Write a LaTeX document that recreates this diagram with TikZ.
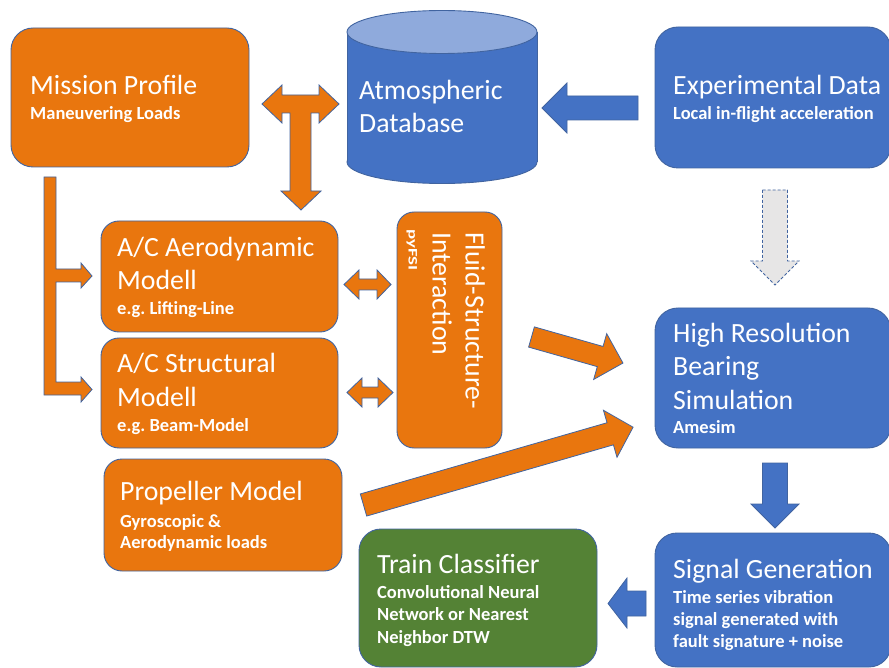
\documentclass[tikz,border=0pt]{standalone}
\usepackage{fontspec}
\setmainfont{Carlito}
\frenchspacing
\definecolor{orng}{RGB}{233,118,14}
\definecolor{blu}{RGB}{68,114,196}
\definecolor{grn}{RGB}{84,130,53}
\definecolor{ltblu}{RGB}{143,170,220}
\definecolor{edgec}{RGB}{65,100,160}
\definecolor{lgray}{RGB}{231,230,230}
\tikzset{
  box/.style={draw=edgec, line width=0.9pt, inner sep=0pt},
  obox/.style={box, fill=orng},
  bbox/.style={box, fill=blu},
  gbox/.style={box, fill=grn},
  oarrow/.style={draw=edgec, line width=0.8pt, fill=orng, line join=miter},
  barrow/.style={draw=edgec, line width=0.8pt, fill=blu, line join=miter},
  ttl/.style={text=white, anchor=base west, inner sep=0pt, font=\fontsize{27.8}{33}\selectfont},
  subt/.style={text=white, anchor=base west, inner sep=0pt, font=\fontsize{18.5}{22}\selectfont\bfseries},
}
\begin{document}
\begin{tikzpicture}[x=1pt,y=-1pt]
\useasboundingbox (0,0) rectangle (889,668);

% ---------- boxes ----------
\node[obox, minimum width=238pt, minimum height=139pt, rounded corners=22pt] (mission) at (130,97.5) {};
\node[obox, minimum width=237pt, minimum height=111pt, rounded corners=18pt] (aero) at (219.5,276.5) {};
\node[obox, minimum width=237pt, minimum height=110pt, rounded corners=18pt] (struct) at (219.5,393) {};
\node[obox, minimum width=105pt, minimum height=236pt, rounded corners=17pt] (fsi) at (449.5,330) {};
\node[obox, minimum width=238pt, minimum height=112pt, rounded corners=18pt] (prop) at (223,515) {};
\node[gbox, minimum width=238pt, minimum height=138pt, rounded corners=22pt] (train) at (478,598) {};
\node[bbox, minimum width=236pt, minimum height=141pt, rounded corners=23pt] (exp) at (773,97.5) {};
\node[bbox, minimum width=236pt, minimum height=140pt, rounded corners=23pt] (hrbs) at (773,378) {};
\node[bbox, minimum width=236pt, minimum height=134pt, rounded corners=22pt] (signal) at (773,600) {};

% ---------- cylinder ----------
\coordinate (dbtop) at (442,32);
\coordinate (dbbot) at (442,162);
\draw[draw=edgec, line width=0.9pt, fill=blu] (dbbot) ellipse (95pt and 21.5pt);
\fill[blu] (347,32) rectangle (537,162);
\draw[draw=edgec, line width=0.9pt] (347,32) -- (347,162);
\draw[draw=edgec, line width=0.9pt] (537,32) -- (537,162);
\draw[draw=edgec, line width=0.9pt, fill=ltblu] (dbtop) ellipse (95pt and 21.5pt);

% ---------- texts ----------
\node[ttl] (t1) at (30,95) {Mission Profile};
\node[subt] (s1) at (30,119.5) {Maneuvering Loads};

\node[ttl] (t2) at (359,100) {Atmospheric};
\node[ttl] (t3) at (359,133) {Database};

\node[ttl] (t4) at (673,94.5) {Experimental Data};
\node[subt] (s4) at (673,119.5) {Local in-flight acceleration};

\node[ttl] (t5) at (117,257) {A/C Aerodynamic};
\node[ttl] (t6) at (117,290) {Modell};
\node[subt] (s5) at (117,315) {e.g. Lifting-Line};

\node[ttl] (t7) at (117,373) {A/C Structural};
\node[ttl] (t8) at (117,406.5) {Modell};
\node[subt] (s7) at (117,431) {e.g. Beam-Model};

\node[ttl] (t9) at (120,500) {Propeller Model};
\node[subt] (s9) at (120,527) {Gyroscopic \&};
\node[subt] (s10) at (120,548.5) {Aerodynamic loads};

\node[ttl] (t10) at (377,573) {Train Classifier};
\node[subt] (s11) at (377,598) {Convolutional Neural};
\node[subt] (s12) at (377,620.5) {Network or Nearest};
\node[subt] (s13) at (377,643) {Neighbor DTW};

\node[ttl] (t11) at (673,342) {High Resolution};
\node[ttl] (t12) at (673,375.5) {Bearing};
\node[ttl] (t13) at (673,409.5) {Simulation};
\node[subt] (s14) at (673,433) {Amesim};

\node[ttl] (t14) at (673,578) {Signal Generation};
\node[subt] (s15) at (673,603) {Time series vibration};
\node[subt] (s16) at (673,625) {signal generated with};
\node[subt] (s17) at (673,647) {fault signature + noise};

\node[ttl, rotate=-90] (t15) at (465.5,232) {Fluid-Structure-};
\node[ttl, rotate=-90] (t16) at (432.5,232) {Interaction};
\node[text=white, anchor=base west, inner sep=0pt, rotate=-90, font=\fontsize{13}{15}\selectfont\bfseries] (t17) at (408.5,229) {\scalebox{1.45}[1]{pyFSI}};

% ---------- block arrows ----------
% T-shaped arrow mission <-> database, down to aero
\draw[oarrow] (262,104) -- (282,85) -- (282,95) -- (319,95) -- (319,85) -- (339,104)
  -- (319,123) -- (319,113) -- (311,113) -- (311,191) -- (321,191) -- (301,210)
  -- (281,191) -- (290,191) -- (290,113) -- (282,113) -- (282,123) -- cycle;

% bent arrows from mission profile
\draw[oarrow] (44,177) -- (56,177) -- (56,269) -- (81,269) -- (81,263) -- (92,276)
  -- (81,288) -- (81,282) -- (56,282) -- (56,382) -- (81,382) -- (81,377) -- (92,389.5)
  -- (81,402) -- (81,395) -- (44,395) -- cycle;

% aero <-> fsi
\draw[oarrow] (344,284.5) -- (359,270) -- (359,279) -- (377,279) -- (377,270) -- (391,284.5)
  -- (377,299) -- (377,290) -- (359,290) -- (359,299) -- cycle;
% struct <-> fsi
\draw[oarrow] (347,392.5) -- (362,378) -- (362,387) -- (378,387) -- (378,378) -- (393,392.5)
  -- (378,407) -- (378,398) -- (362,398) -- (362,407) -- cycle;

% fsi -> hrbs
\begin{scope}[shift={(531.5,337)}, rotate=-15.9]
\draw[oarrow] (0,-10.5) -- (71.4,-10.5) -- (71.4,-23.8) -- (95.1,0) -- (71.4,23.8) -- (71.4,10.5) -- (0,10.5) -- cycle;
\end{scope}
% prop -> hrbs
\begin{scope}[shift={(363.5,505)}, rotate=16.1]
\draw[oarrow] (0,-11.5) -- (256.8,-11.5) -- (256.8,-24.5) -- (280.6,0) -- (256.8,24.5) -- (256.8,11.5) -- (0,11.5) -- cycle;
\end{scope}

% exp -> database
\draw[barrow] (638,96) -- (567,96) -- (567,83) -- (542,108) -- (567,133) -- (567,120) -- (638,120) -- cycle;

% exp -> hrbs dashed
\draw[draw=edgec, line width=0.8pt, dashed, dash pattern=on 3pt off 2pt, fill=lgray]
  (762.5,190) -- (787.5,190) -- (787.5,261) -- (799,261) -- (775,285) -- (751,261) -- (762.5,261) -- cycle;

% hrbs -> signal
\draw[barrow] (762.5,463) -- (787.5,463) -- (787.5,504) -- (799,504) -- (775,528) -- (751,504) -- (762.5,504) -- cycle;

% signal -> train
\draw[barrow] (646,591) -- (627,591) -- (627,578) -- (608,603.5) -- (627,628) -- (627,616) -- (646,616) -- cycle;

\end{tikzpicture}
\end{document}
